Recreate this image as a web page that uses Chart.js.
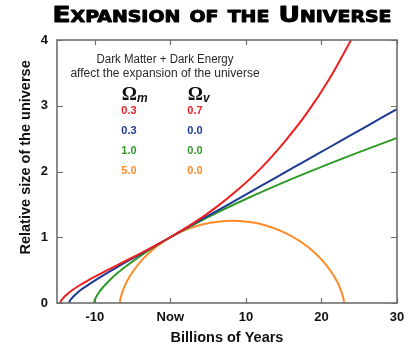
<!DOCTYPE html>
<html>
<head>
<meta charset="utf-8">
<script src="https://cdn.jsdelivr.net/npm/chart.js@4.4.1/dist/chart.umd.min.js"></script>
<style>
html,body{margin:0;padding:0;background:#ffffff;}
#wrap{width:419px;height:353px;position:relative;}
</style>
</head>
<body>
<div id="wrap"><canvas id="c" width="419" height="353"></canvas></div>
<script>
// ---- data ----
const chartTitle = 'Expansion of the Universe';
const xAxisTitle = 'Billions of Years';
const yAxisTitle = 'Relative size of the universe';

const xTickValues = [-10, 0, 10, 20, 30];
const xTickLabels = ['-10', 'Now', '10', '20', '30'];
const yTickValues = [0, 1, 2, 3, 4];

const noteLines = ['Dark Matter + Dark Energy', 'affect the expansion of the universe'];
const omegaMatter = ['0.3', '0.3', '1.0', '5.0'];
const omegaVacuum = ['0.7', '0.0', '0.0', '0.0'];

// Ωm = 0.3, Ωv = 0.7
const redYears = [-14.56, -14.5, -14.3, -14, -13.5, -13, -12, -11, -10, -8, -6, -4, -2, 0, 3, 6, 9, 12, 15, 18, 21, 24];
const redSize  = [0, 0.022, 0.058, 0.098, 0.149, 0.193, 0.270, 0.338, 0.401, 0.520, 0.635, 0.752, 0.873, 1.0, 1.210, 1.451, 1.729, 2.052, 2.437, 2.876, 3.399, 4.016];

// Ωm = 0.3, Ωv = 0.0
const blueYears = [-13.4, -13.3, -13.1, -12.8, -12.4, -12, -11, -10, -8, -6, -4, -2, 0, 3, 6, 9, 12, 15, 18, 21, 24, 27, 30];
const blueSize  = [0, 0.031, 0.064, 0.102, 0.145, 0.185, 0.265, 0.34, 0.48, 0.615, 0.74, 0.87, 1.0, 1.20, 1.39, 1.585, 1.78, 1.975, 2.17, 2.365, 2.56, 2.755, 2.95];

// Ωm = 1.0, Ωv = 0.0
const greenYears = [-10.1, -10, -9.8, -9.5, -9, -8, -7, -6, -4, -2, 0, 5, 10, 15, 20, 25, 30];
const greenSize  = [0, 0.046, 0.096, 0.152, 0.228, 0.351, 0.455, 0.548, 0.714, 0.863, 1.0, 1.307, 1.582, 1.835, 2.071, 2.295, 2.51];

// Ωm = 5.0, Ωv = 0.0
const orangeYears = [-6.67, -6.65, -6.50, -6.12, -5.41, -4.30, -2.77, -0.83, 1.47, 4.06, 6.82, 8.16, 9.65, 12.41, 14.98, 17.27, 19.18, 20.69, 21.77, 22.47, 22.83, 22.97, 22.99];
const orangeSize  = [0, 0.028, 0.109, 0.237, 0.399, 0.581, 0.767, 0.941, 1.086, 1.190, 1.244, 1.25, 1.242, 1.186, 1.079, 0.931, 0.757, 0.570, 0.389, 0.228, 0.103, 0.025, 0];

// ---- styles ----
const seriesColors = ['#f01e1e', '#1c3a94', '#2f9a28', '#ff8a2a'];
const frameColor = '#6e6e6e';
const tickFont = {family: 'Liberation Sans', size: 13, weight: 'bold'};

function pts(xs, ys) { return xs.map((x, i) => ({x: x, y: ys[i]})); }

const series = [
  {label: 'Ωm 0.3 Ωv 0.7', data: pts(redYears, redSize)},
  {label: 'Ωm 0.3 Ωv 0.0', data: pts(blueYears, blueSize)},
  {label: 'Ωm 1.0 Ωv 0.0', data: pts(greenYears, greenSize)},
  {label: 'Ωm 5.0 Ωv 0.0', data: pts(orangeYears, orangeSize)}
].map((d, i) => Object.assign(d, {
  borderColor: seriesColors[i],
  backgroundColor: seriesColors[i],
  borderWidth: 2,
  pointRadius: 0,
  fill: false,
  cubicInterpolationMode: 'monotone'
}));

const decorations = {
  id: 'decorations',
  afterDraw(chart) {
    const ctx = chart.ctx;
    const a = chart.chartArea;
    const xs = chart.scales.x, ys = chart.scales.y;
    ctx.save();
    // frame
    ctx.strokeStyle = frameColor;
    ctx.lineWidth = 1.6;
    ctx.strokeRect(a.left, a.top, a.right - a.left, a.bottom - a.top);
    // inner tick marks on all four sides
    ctx.lineWidth = 1.2;
    ctx.beginPath();
    xTickValues.forEach(v => {
      const px = Math.round(xs.getPixelForValue(v)) + 0.5;
      ctx.moveTo(px, a.bottom); ctx.lineTo(px, a.bottom - 5);
      ctx.moveTo(px, a.top); ctx.lineTo(px, a.top + 5);
    });
    yTickValues.forEach(v => {
      const py = Math.round(ys.getPixelForValue(v)) + 0.5;
      ctx.moveTo(a.left, py); ctx.lineTo(a.left + 6, py);
      ctx.moveTo(a.right, py); ctx.lineTo(a.right - 6, py);
    });
    ctx.stroke();

    // title (wide, heavy small caps)
    ctx.fillStyle = '#000';
    ctx.strokeStyle = '#000';
    ctx.lineWidth = 0.9;
    ctx.lineJoin = 'round';
    ctx.font = 'small-caps 900 21px "DejaVu Sans"';
    ctx.textBaseline = 'alphabetic';
    ctx.textAlign = 'left';
    const tw = ctx.measureText(chartTitle).width;
    ctx.save();
    ctx.translate(52.5, 22);
    ctx.scale(339 / tw, 1);
    ctx.fillText(chartTitle, 0, 0);
    ctx.strokeText(chartTitle, 0, 0);
    ctx.restore();

    // notes
    const cx = a.left + 108;
    ctx.fillStyle = '#2a2a2a';
    ctx.font = '12px "Liberation Sans"';
    ctx.textAlign = 'center';
    ctx.textBaseline = 'middle';
    ctx.fillText(noteLines[0], cx, a.top + 20, 137);
    ctx.fillText(noteLines[1], cx, a.top + 34, 192);

    // Omega headers
    const col1 = a.left + 72, col2 = a.left + 138;
    ctx.fillStyle = '#111';
    ctx.font = 'bold 19px "Liberation Serif"';
    ctx.textAlign = 'right';
    ctx.textBaseline = 'alphabetic';
    ctx.fillText('Ω', col1 + 8, a.top + 60);
    ctx.fillText('Ω', col2 + 8, a.top + 60);
    ctx.font = 'italic bold 12px "Liberation Sans"';
    ctx.textAlign = 'left';
    ctx.fillText('m', col1 + 8, a.top + 62);
    ctx.fillText('v', col2 + 8, a.top + 62);

    // values table
    ctx.font = 'bold 11px "Liberation Sans"';
    ctx.textAlign = 'center';
    ctx.textBaseline = 'middle';
    omegaMatter.forEach((m, i) => {
      ctx.fillStyle = seriesColors[i];
      ctx.fillText(m, col1, a.top + 71 + i * 20);
      ctx.fillText(omegaVacuum[i], col2, a.top + 71 + i * 20);
    });
    ctx.restore();
  }
};

new Chart(document.getElementById('c').getContext('2d'), {
  type: 'line',
  data: {datasets: series},
  options: {
    responsive: false,
    animation: false,
    devicePixelRatio: 1,
    layout: {padding: {top: 40, right: 22, left: 0, bottom: 0}},
    plugins: {
      legend: {display: false},
      tooltip: {enabled: false},
      title: {display: false}
    },
    scales: {
      x: {
        type: 'linear', min: -15, max: 30,
        afterBuildTicks: s => { s.ticks = xTickValues.map(v => ({value: v})); },
        afterFit: s => { s.height = 50; },
        grid: {display: false, drawTicks: false},
        border: {display: false},
        ticks: {
          font: tickFont, color: '#111', padding: 7, maxRotation: 0,
          callback: (v) => { const i = xTickValues.indexOf(v); return i >= 0 ? xTickLabels[i] : ''; }
        },
        title: {display: true, text: xAxisTitle, color: '#111',
                font: {family: 'Liberation Sans', size: 14.5, weight: 'bold'}, padding: {top: 4, bottom: 6}}
      },
      y: {
        type: 'linear', min: 0, max: 4,
        afterBuildTicks: s => { s.ticks = yTickValues.map(v => ({value: v})); },
        afterFit: s => { s.width = 57; },
        grid: {display: false, drawTicks: false},
        border: {display: false},
        ticks: {font: tickFont, color: '#111', padding: 9},
        title: {display: true, text: '\u00a0\u00a0\u00a0\u00a0\u00a0\u00a0\u00a0' + yAxisTitle, color: '#111',
                font: {family: 'Liberation Sans', size: 14.5, weight: 'bold'}, padding: {top: 17, bottom: 0}}
      }
    }
  },
  plugins: [decorations]
});
</script>
</body>
</html>
